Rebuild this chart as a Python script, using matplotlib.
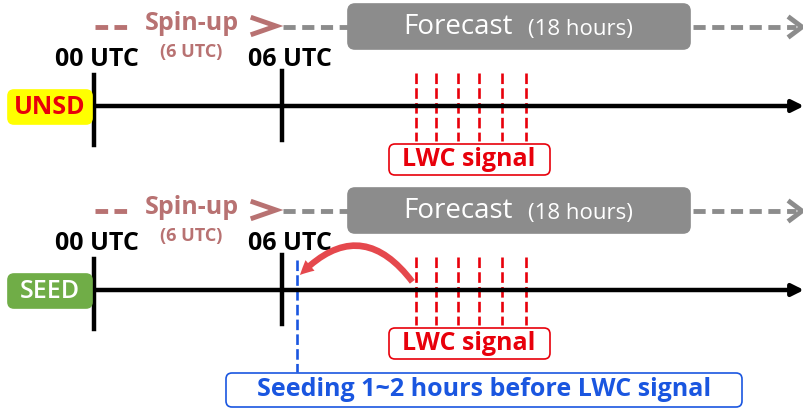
import matplotlib.pyplot as plt
from matplotlib.patches import FancyBboxPatch, FancyArrowPatch

plt.rcParams['font.family'] = ['Open Sans', 'DejaVu Sans']

# diagram layout in pixel-like units (x right, y down)
runs = ['UNSD', 'SEED']
run_face = ['#ffff00', '#70ad47']
run_text = ['#e8000b', 'white']
row_offset = [0, 184]
tick_x = [94, 282]
tick_labels = ['00 UTC', '06 UTC']
signal_x = [416, 436, 458, 479, 502, 526]
seed_x = 297
seed_text = 'Seeding 1~2 hours before LWC signal'

SPIN = '#b87272'
GRAY = '#8c8c8c'
RED = '#e8000b'
BLUE = '#1a56e0'

fig = plt.figure(figsize=(8.04, 4.09), dpi=100)
ax = fig.add_axes([0, 0, 1, 1])
ax.set_xlim(0, 804)
ax.set_ylim(409, 0)
ax.axis('off')


def rbox(x0, y0, x1, y1, face, edge, r=6, lw=1.2):
    p = FancyBboxPatch((x0, y0), x1 - x0, y1 - y0,
                       boxstyle='round,pad=0,rounding_size=%d' % r,
                       fc=face, ec=edge, lw=lw, zorder=3)
    ax.add_patch(p)


for i, name in enumerate(runs):
    dy = row_offset[i]
    ly = 106 + dy

    # spin-up label
    ax.plot([95, 128], [27 + dy, 27 + dy], color=SPIN, lw=3.5, ls=(0, (2.6, 1.3)))
    ax.text(192, 24 + dy, 'Spin-up', color=SPIN, fontsize=18, fontweight='bold',
            ha='center', va='center')
    ax.plot([253, 276, 253], [18 + dy, 26 + dy, 34 + dy], color=SPIN, lw=3.5,
            solid_joinstyle='miter')
    ax.text(191, 52 + dy, '(6 UTC)', color=SPIN, fontsize=13, fontweight='bold',
            ha='center', va='center')
    ax.plot([283, 348], [27 + dy, 27 + dy], color=GRAY, lw=3.5, ls=(0, (2.5, 1.35)))

    # forecast box
    rbox(348, 4 + dy, 690, 49 + dy, GRAY, GRAY, r=7)
    ax.text(458, 27 + dy, 'Forecast', color='white', fontsize=20, ha='center',
            va='center', zorder=4)
    ax.text(580, 30 + dy, '(18 hours)', color='white', fontsize=16, ha='center',
            va='center', zorder=4)
    ax.plot([693, 796], [27 + dy, 27 + dy], color=GRAY, lw=3.5, ls=(0, (2.5, 1.35)))
    ax.plot([790, 802, 790], [18 + dy, 27 + dy, 36 + dy], color=GRAY, lw=3.5,
            solid_joinstyle='miter')

    # time labels and ticks
    ax.text(97, 59 + dy, tick_labels[0], fontsize=18, fontweight='bold',
            ha='center', va='center')
    ax.text(290, 59 + dy, tick_labels[1], fontsize=18, fontweight='bold',
            ha='center', va='center')
    ax.plot([tick_x[0], tick_x[0]], [75 + dy, 145 + dy], color='black', lw=3.2)
    ax.plot([tick_x[1], tick_x[1]], [71 + dy, 140 + dy], color='black', lw=3.2)

    # timeline
    ax.annotate('', xy=(804, ly), xytext=(93, ly),
                arrowprops=dict(arrowstyle='-|>,head_length=0.7,head_width=0.35',
                                color='black', lw=3.2, shrinkA=0, shrinkB=0))

    # run label
    rbox(8, 90 + dy, 92, 124 + dy, run_face[i], run_face[i], r=6)
    ax.text(50, 107 + dy, name, color=run_text[i], fontsize=18,
            fontweight='bold' if i == 0 else 'semibold',
            ha='center', va='center', zorder=4)

    # LWC signal
    for sx in signal_x:
        ax.plot([sx, sx], [73 + dy, 141 + dy], color=RED, lw=1.9, ls=(0, (4, 1.6)))
    rbox(389, 144 + dy, 550, 175 + dy, 'white', RED, r=6)
    ax.text(469, 159 + dy, 'LWC signal', color=RED, fontsize=18, fontweight='bold',
            ha='center', va='center', zorder=4)

# seeding
ax.plot([seed_x, seed_x], [260, 372], color=BLUE, lw=1.9, ls=(0, (4, 1.6)))
arr = FancyArrowPatch((414, 284), (298, 277), connectionstyle='arc3,rad=0.6',
                      arrowstyle='simple,head_width=10,head_length=10,tail_width=4.5',
                      color='#e5484d', lw=0, zorder=5)
ax.add_patch(arr)
rbox(226, 373, 742, 407, 'white', BLUE, r=6)
ax.text(484, 390, seed_text, color=BLUE, fontsize=18, fontweight='bold',
        ha='center', va='center', zorder=4)

fig.savefig('out.png', dpi=100)
